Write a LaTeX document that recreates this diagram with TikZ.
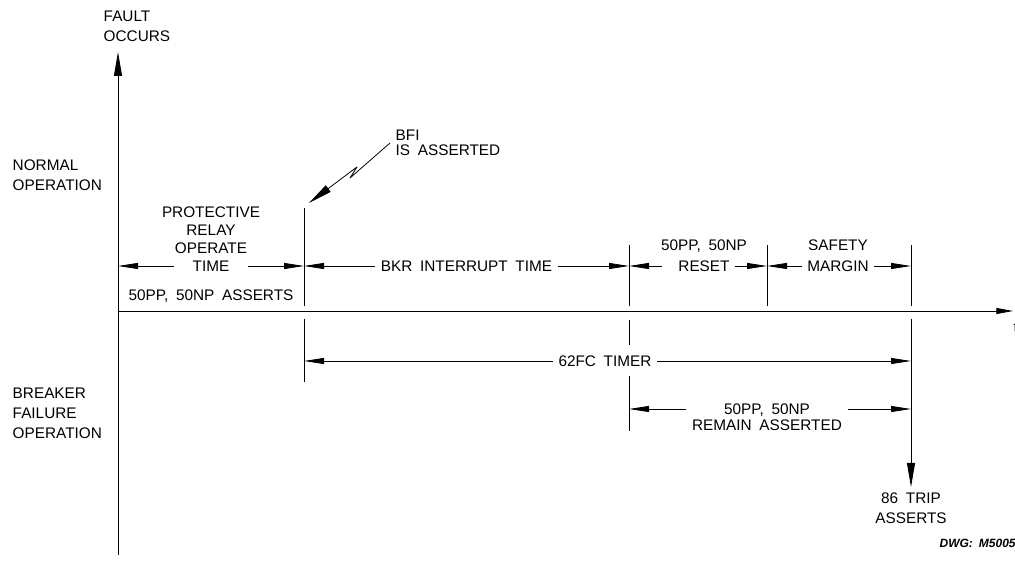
\documentclass[tikz,border=0pt]{standalone}
\usepackage{fontspec}
\setmainfont{Liberation Sans}[WordSpace=1.8]
\usetikzlibrary{calc,positioning,arrows.meta}

\begin{document}
\begin{tikzpicture}[x=0.75pt, y=0.75pt, line width=0.6pt, line join=round,
    font=\fontsize{11.5}{15}\selectfont,
    lbl/.style={inner xsep=4pt, inner ysep=1pt},
    fila/.style={lbl, text height=8.7pt, text depth=0pt},
    cota/.style={-{Triangle[length=15pt,width=4.5pt]}},
    flecha/.style={-{Triangle[length=18pt,width=6pt]}}]
    \useasboundingbox (0,0) rectangle (1015,563);
    % ejes: origen en el instante de la falla
    \coordinate (O) at (118,252);
    \coordinate (vbot) at (118,8); \coordinate (vtop) at (118,511);
    \coordinate (tend) at (1013,252);
    % instantes sobre el eje t
    \coordinate (b) at (304,252); \coordinate (c) at (629,252);
    \coordinate (d) at (767,252); \coordinate (e) at (911,252);
    \draw[flecha] (vbot) -- (vtop);
    \draw[-{Triangle[length=12.5pt,width=4.5pt]}] (O) -- (tend);
    % lineas de referencia
    \draw ($(b)+(0,5)$) -- ($(b)+(0,103)$);
    \foreach \p in {c,d,e}
        \draw ($(\p)+(0,5)$) -- ($(\p)+(0,66)$);
    \draw ($(b)-(0,8)$) -- ($(b)-(0,71)$);
    \draw ($(c)-(0,9)$) -- ($(c)-(0,34)$);
    \draw ($(c)-(0,65)$) -- ($(c)-(0,120)$);
    \coordinate (tripend) at ($(e)-(0,176)$);
    \draw[flecha] ($(e)-(0,8)$) -- (tripend);
    % textos a la izquierda
    \node[lbl, align=left, anchor=west] (fault) at (98,537) {FAULT\\OCCURS};
    \node[lbl, align=left, anchor=west] (normal) at (7,388) {NORMAL\\OPERATION};
    \node[lbl, align=left, anchor=west] (breaker) at (7,150) {BREAKER\\FAILURE\\OPERATION};
    \node[lbl, anchor=west] (tlbl) at (1008,235) {t};
    % fila superior
    \node[fila] (prtime) at ($(O)!.5!(b)+(0,45)$) {TIME};
    \node[lbl, align=center, above=2.6pt of prtime] (prtop) {PROTECTIVE\\[-1.7pt]RELAY\\[-1.7pt]OPERATE};
    \draw[cota, shorten <=10pt] (prtime.west) -- (O |- prtime);
    \draw[cota, shorten <=10pt] (prtime.east) -- (b |- prtime);
    \node[fila] (asserts) at ($(O)!.5!(b)+(0,16)$) {50PP, 50NP ASSERTS};
    \node[fila] (bkr) at ($(b)!.5!(c)+(0,45)$) {BKR INTERRUPT TIME};
    \draw[cota] (bkr.west) -- (b |- bkr);
    \draw[cota] (bkr.east) -- (c |- bkr);
    \node[fila] (reset) at (704,297) {RESET};
    \node[fila, above=5pt of reset] (rstop) {50PP, 50NP};
    \draw[cota, shorten <=8pt] (reset.west) -- (c |- reset);
    \draw[cota] (reset.east) -- (d |- reset);
    \node[fila] (margin) at (838,297) {MARGIN};
    \node[fila, above=5pt of margin] (safety) {SAFETY};
    \draw[cota] (margin.west) -- (d |- margin);
    \draw[cota] (margin.east) -- (e |- margin);
    % BFI
    \node[lbl, align=left, anchor=west] (bfi) at (390,420) {BFI\\[-3.75pt]IS ASSERTED};
    \coordinate (bfitip) at (309,360);
    \draw[flecha] (bfi.west) -- ++(-40,-35) -- ++(7,11) -- (bfitip);
    % falla del interruptor
    \node[fila] (timer) at (605,202) {62FC TIMER};
    \draw[cota] (timer.west) -- (b |- timer);
    \draw[cota] (timer.east) -- (e |- timer);
    \node[fila] (rmtop) at (767,154) {50PP, 50NP};
    \node[fila, below=0.5pt of rmtop] (rmbot) {REMAIN ASSERTED};
    \draw[cota] (rmtop.west -| rmbot.west) -- (c |- rmtop);
    \draw[cota] (rmtop.east -| rmbot.east) -- (e |- rmtop);
    \node[lbl, align=center, below=3pt of tripend] (trip) {86 TRIP\\ASSERTS};
    \node[font=\fontsize{9}{11}\selectfont\bfseries\itshape, anchor=east, inner sep=0pt] (dwg) at (1016,20) {DWG: M5005};
\end{tikzpicture}
\end{document}
